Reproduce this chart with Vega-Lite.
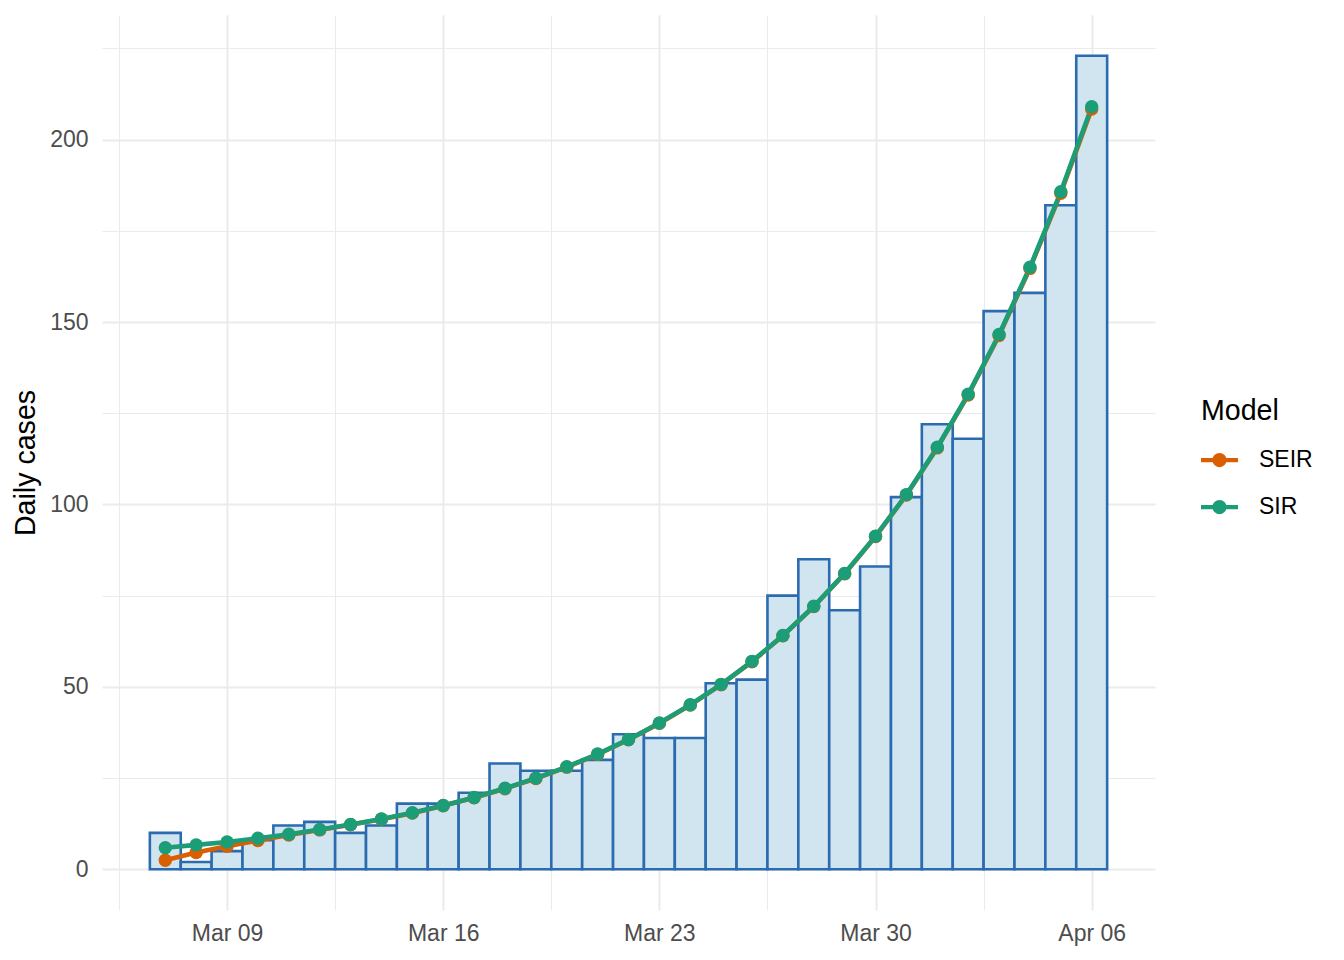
{
  "$schema": "https://vega.github.io/schema/vega-lite/v6.json",
  "width": 1053,
  "height": 895,
  "autosize": {"type": "none"},
  "padding": {"left": 102, "top": 15, "right": 189, "bottom": 50},
  "background": "white",
  "config": {
    "view": {"stroke": null},
    "font": "Liberation Sans",
    "axis": {
      "domain": false,
      "ticks": false,
      "gridColor": "#EBEBEB",
      "labelColor": "#4D4D4D",
      "labelFontSize": 23,
      "titleColor": "black",
      "titleFontSize": 28.6,
      "titleFontWeight": "normal"
    },
    "legend": {
      "orient": "none",
      "legendX": 1099,
      "legendY": 382,
      "padding": 0,
      "titleFontSize": 28.6,
      "titleFontWeight": "normal",
      "titleColor": "black",
      "titlePadding": 16,
      "titleBaseline": "top",
      "labelFontSize": 23,
      "labelColor": "black",
      "labelOffset": 21,
      "rowPadding": 16,
      "symbolSize": 1369,
      "symbolStrokeWidth": 0,
      "symbolOpacity": 1,
      "symbolType": "M-1,-0.12L1,-0.12L1,0.12L-1,0.12Z M0.38,0A0.38,0.38,0,1,1,-0.38,0A0.38,0.38,0,1,1,0.38,0Z"
    }
  },
  "datasets": {
    "observed": [
      {"date": "2020-03-07", "cases": 10},
      {"date": "2020-03-08", "cases": 2},
      {"date": "2020-03-09", "cases": 5},
      {"date": "2020-03-10", "cases": 8},
      {"date": "2020-03-11", "cases": 12},
      {"date": "2020-03-12", "cases": 13},
      {"date": "2020-03-13", "cases": 10},
      {"date": "2020-03-14", "cases": 12},
      {"date": "2020-03-15", "cases": 18},
      {"date": "2020-03-16", "cases": 18},
      {"date": "2020-03-17", "cases": 21},
      {"date": "2020-03-18", "cases": 29},
      {"date": "2020-03-19", "cases": 27},
      {"date": "2020-03-20", "cases": 27},
      {"date": "2020-03-21", "cases": 30},
      {"date": "2020-03-22", "cases": 37},
      {"date": "2020-03-23", "cases": 36},
      {"date": "2020-03-24", "cases": 36},
      {"date": "2020-03-25", "cases": 51},
      {"date": "2020-03-26", "cases": 52},
      {"date": "2020-03-27", "cases": 75},
      {"date": "2020-03-28", "cases": 85},
      {"date": "2020-03-29", "cases": 71},
      {"date": "2020-03-30", "cases": 83},
      {"date": "2020-03-31", "cases": 102},
      {"date": "2020-04-01", "cases": 122},
      {"date": "2020-04-02", "cases": 118},
      {"date": "2020-04-03", "cases": 153},
      {"date": "2020-04-04", "cases": 158},
      {"date": "2020-04-05", "cases": 182},
      {"date": "2020-04-06", "cases": 223}
    ],
    "fitted": [
      {"date": "2020-03-07", "model": "SEIR", "value": 2.5},
      {"date": "2020-03-08", "model": "SEIR", "value": 4.6},
      {"date": "2020-03-09", "model": "SEIR", "value": 6.3},
      {"date": "2020-03-10", "model": "SEIR", "value": 7.9},
      {"date": "2020-03-11", "model": "SEIR", "value": 9.4},
      {"date": "2020-03-12", "model": "SEIR", "value": 10.8},
      {"date": "2020-03-13", "model": "SEIR", "value": 12.2},
      {"date": "2020-03-14", "model": "SEIR", "value": 13.7},
      {"date": "2020-03-15", "model": "SEIR", "value": 15.4},
      {"date": "2020-03-16", "model": "SEIR", "value": 17.4},
      {"date": "2020-03-17", "model": "SEIR", "value": 19.6},
      {"date": "2020-03-18", "model": "SEIR", "value": 22.1},
      {"date": "2020-03-19", "model": "SEIR", "value": 24.9},
      {"date": "2020-03-20", "model": "SEIR", "value": 28.0},
      {"date": "2020-03-21", "model": "SEIR", "value": 31.5},
      {"date": "2020-03-22", "model": "SEIR", "value": 35.5},
      {"date": "2020-03-23", "model": "SEIR", "value": 40.0},
      {"date": "2020-03-24", "model": "SEIR", "value": 45.0},
      {"date": "2020-03-25", "model": "SEIR", "value": 50.6},
      {"date": "2020-03-26", "model": "SEIR", "value": 56.9},
      {"date": "2020-03-27", "model": "SEIR", "value": 64.0},
      {"date": "2020-03-28", "model": "SEIR", "value": 72.0},
      {"date": "2020-03-29", "model": "SEIR", "value": 81.0},
      {"date": "2020-03-30", "model": "SEIR", "value": 91.2},
      {"date": "2020-03-31", "model": "SEIR", "value": 102.6},
      {"date": "2020-04-01", "model": "SEIR", "value": 115.5},
      {"date": "2020-04-02", "model": "SEIR", "value": 130.0},
      {"date": "2020-04-03", "model": "SEIR", "value": 146.3},
      {"date": "2020-04-04", "model": "SEIR", "value": 164.7},
      {"date": "2020-04-05", "model": "SEIR", "value": 185.3},
      {"date": "2020-04-06", "model": "SEIR", "value": 208.4},
      {"date": "2020-03-07", "model": "SIR", "value": 5.9},
      {"date": "2020-03-08", "model": "SIR", "value": 6.7},
      {"date": "2020-03-09", "model": "SIR", "value": 7.5},
      {"date": "2020-03-10", "model": "SIR", "value": 8.5},
      {"date": "2020-03-11", "model": "SIR", "value": 9.6},
      {"date": "2020-03-12", "model": "SIR", "value": 10.9},
      {"date": "2020-03-13", "model": "SIR", "value": 12.3},
      {"date": "2020-03-14", "model": "SIR", "value": 13.8},
      {"date": "2020-03-15", "model": "SIR", "value": 15.5},
      {"date": "2020-03-16", "model": "SIR", "value": 17.5},
      {"date": "2020-03-17", "model": "SIR", "value": 19.7},
      {"date": "2020-03-18", "model": "SIR", "value": 22.2},
      {"date": "2020-03-19", "model": "SIR", "value": 25.0},
      {"date": "2020-03-20", "model": "SIR", "value": 28.1},
      {"date": "2020-03-21", "model": "SIR", "value": 31.6},
      {"date": "2020-03-22", "model": "SIR", "value": 35.6},
      {"date": "2020-03-23", "model": "SIR", "value": 40.1},
      {"date": "2020-03-24", "model": "SIR", "value": 45.1},
      {"date": "2020-03-25", "model": "SIR", "value": 50.7},
      {"date": "2020-03-26", "model": "SIR", "value": 57.0},
      {"date": "2020-03-27", "model": "SIR", "value": 64.1},
      {"date": "2020-03-28", "model": "SIR", "value": 72.1},
      {"date": "2020-03-29", "model": "SIR", "value": 81.1},
      {"date": "2020-03-30", "model": "SIR", "value": 91.3},
      {"date": "2020-03-31", "model": "SIR", "value": 102.7},
      {"date": "2020-04-01", "model": "SIR", "value": 115.7},
      {"date": "2020-04-02", "model": "SIR", "value": 130.2},
      {"date": "2020-04-03", "model": "SIR", "value": 146.6},
      {"date": "2020-04-04", "model": "SIR", "value": 165.0},
      {"date": "2020-04-05", "model": "SIR", "value": 185.7},
      {"date": "2020-04-06", "model": "SIR", "value": 209.0}
    ]
  },
  "encoding": {
    "x": {
      "field": "date",
      "type": "temporal",
      "scale": {
        "type": "utc",
        "padding": 0,
        "domain": [
          {"year": 2020, "month": 3, "date": 4, "hours": 22, "minutes": 48, "utc": true},
          {"year": 2020, "month": 4, "date": 8, "hours": 1, "minutes": 12, "utc": true}
        ]
      },
      "axis": {
        "title": null,
        "format": "%b %d",
        "labelPadding": 12,
        "values": [
          {"year": 2020, "month": 3, "date": 5, "hours": 12, "utc": true},
          {"year": 2020, "month": 3, "date": 9, "utc": true},
          {"year": 2020, "month": 3, "date": 12, "hours": 12, "utc": true},
          {"year": 2020, "month": 3, "date": 16, "utc": true},
          {"year": 2020, "month": 3, "date": 19, "hours": 12, "utc": true},
          {"year": 2020, "month": 3, "date": 23, "utc": true},
          {"year": 2020, "month": 3, "date": 26, "hours": 12, "utc": true},
          {"year": 2020, "month": 3, "date": 30, "utc": true},
          {"year": 2020, "month": 4, "date": 2, "hours": 12, "utc": true},
          {"year": 2020, "month": 4, "date": 6, "utc": true}
        ],
        "labelExpr": "utchours(datum.value) === 0 ? datum.label : ''",
        "gridWidth": {"condition": {"test": "utchours(datum.value) === 0", "value": 2}, "value": 1}
      }
    }
  },
  "layer": [
    {
      "data": {"name": "observed"},
      "mark": {"type": "bar", "size": 30.9, "fill": "#D1E5F0", "stroke": "#2B6BAF", "strokeWidth": 2.6},
      "encoding": {
        "y": {
          "field": "cases",
          "type": "quantitative",
          "scale": {"domain": [-11.15, 234.15], "nice": false, "zero": false},
          "axis": {
            "title": "Daily cases",
            "titlePadding": 9,
            "labelPadding": 14,
            "values": [0, 25, 50, 75, 100, 125, 150, 175, 200, 225],
            "labelExpr": "datum.value % 50 === 0 ? datum.label : ''",
            "gridWidth": {"condition": {"test": "datum.value % 50 === 0", "value": 2}, "value": 1}
          }
        }
      }
    },
    {
      "data": {"name": "fitted"},
      "mark": {"type": "line", "strokeWidth": 4.6},
      "encoding": {
        "y": {"field": "value", "type": "quantitative"},
        "color": {
          "field": "model",
          "type": "nominal",
          "title": "Model",
          "scale": {"domain": ["SEIR", "SIR"], "range": ["#D95F02", "#1B9E77"]},
          "legend": {
            "encode": {"symbols": {"update": {"fill": {"scale": "color", "field": "value"}, "strokeWidth": {"value": 0}}}}
          }
        }
      }
    },
    {
      "data": {"name": "fitted"},
      "mark": {"type": "point", "filled": true, "opacity": 1, "size": 180},
      "encoding": {
        "y": {"field": "value", "type": "quantitative"},
        "color": {
          "field": "model",
          "type": "nominal",
          "title": "Model",
          "legend": {
            "encode": {"symbols": {"update": {"fill": {"scale": "color", "field": "value"}, "strokeWidth": {"value": 0}}}}
          }
        }
      }
    }
  ]
}
